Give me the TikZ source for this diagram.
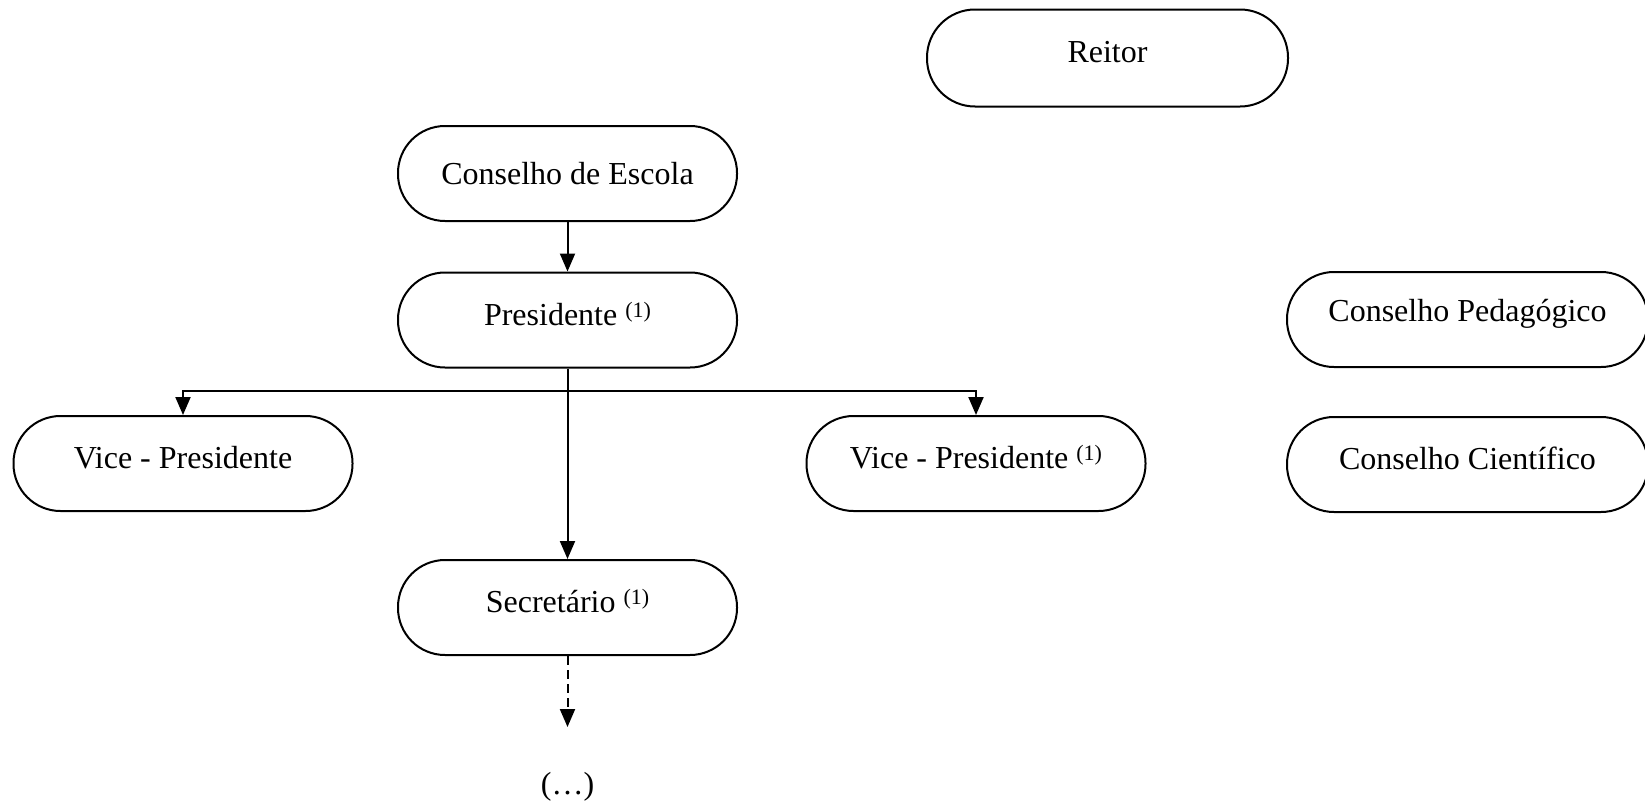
\documentclass[tikz,border=0pt]{standalone}
\usepackage{fontspec}
\setmainfont{Liberation Serif}
\usetikzlibrary{arrows.meta}
\newcommand{\supone}{\raisebox{8pt}{\fontsize{22}{22}\selectfont(1)}}
\newcommand{\up}[1]{\raisebox{6pt}[\height][\depth]{#1}}
\begin{document}
\begin{tikzpicture}[x=1pt,y=-1pt,
  pill/.style={draw,line width=2pt,rectangle,rounded corners=47pt,
    minimum width=339pt,minimum height=95pt,inner sep=0pt,
    font=\fontsize{32}{38}\selectfont},
  widepill/.style={pill,minimum width=361pt,minimum height=97pt,rounded corners=48pt},
  arr/.style={line width=2pt,-{Triangle[length=18pt,width=15pt]}},
  plain/.style={font=\fontsize{32}{38}\selectfont,inner sep=0pt}]
\useasboundingbox (0,0) rectangle (1645,803);
\node[widepill] (reitor) at (1107.5,58) {\up{Reitor}};
\node[pill] (ce) at (567.5,173.5) {Conselho de Escola};
\node[pill] (pres) at (567.5,320) {\up{Presidente \supone}};
\node[pill] (vp1) at (183,463.5) {\up{Vice - Presidente}};
\node[pill] (vp2) at (976,463.5) {\up{Vice - Presidente \supone}};
\node[pill] (sec) at (567.5,607.5) {\up{Secretário \supone}};
\node[widepill,minimum height=95pt,rounded corners=47pt] (cp) at (1467.5,319.5) {\up{Conselho Pedagógico}};
\node[widepill,minimum height=95pt,rounded corners=47pt] (cc) at (1467.5,464.5) {\up{Conselho Científico}};
\node[plain] (dots) at (567.5,787) {(…)};
\coordinate (br) at (567.5,391);
\coordinate (dend) at (567.5,727);
\draw[arr] (ce.south) -- (pres.north);
\draw[arr] (pres.south) -- (sec.north);
\draw[arr] (br) -| (vp1.north);
\draw[arr] (br) -| (vp2.north);
\draw[arr,dash pattern=on 9pt off 5pt] (sec.south) -- (dend);
\end{tikzpicture}
\end{document}
